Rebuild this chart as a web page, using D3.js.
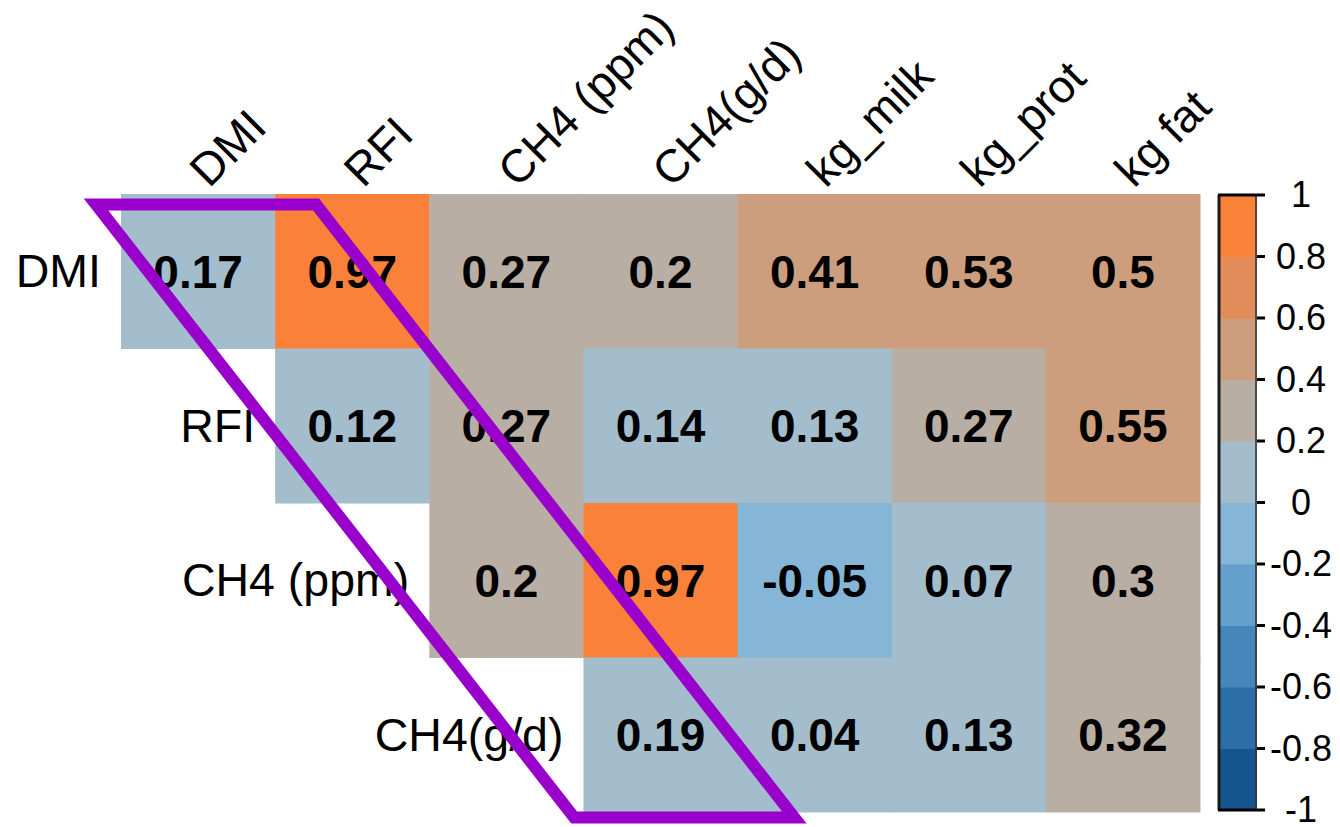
<!DOCTYPE html>
<html>
<head>
<meta charset="utf-8">
<script src="https://cdn.jsdelivr.net/npm/d3@7"></script>
<style>
html,body{margin:0;padding:0;background:#fff;}
svg{display:block;font-family:"Liberation Sans",Arial,sans-serif;}
</style>
</head>
<body>
<svg id="chart" width="1340" height="827"></svg>
<script>
// ---- data ----
const columns = ["DMI", "RFI", "CH4 (ppm)", "CH4(g/d)", "kg_milk", "kg_prot", "kg fat"];
const rows = ["DMI", "RFI", "CH4 (ppm)", "CH4(g/d)"];
const rowDMI = [0.17, 0.97, 0.27, 0.2, 0.41, 0.53, 0.5];
const rowRFI = [0.12, 0.27, 0.14, 0.13, 0.27, 0.55];
const rowCH4ppm = [0.2, 0.97, -0.05, 0.07, 0.3];
const rowCH4gd = [0.19, 0.04, 0.13, 0.32];
const rowValues = [rowDMI, rowRFI, rowCH4ppm, rowCH4gd];
const legendTicks = [1, 0.8, 0.6, 0.4, 0.2, 0, -0.2, -0.4, -0.6, -0.8, -1];
const binColors = ["#14548f", "#2b6ea8", "#4686bb", "#65a0cc", "#85b6d8",
                   "#a3bdcc", "#b8aea3", "#cd9e7e", "#e28c5a", "#f98139"];

// ---- build cells: row r starts at column r ----
const cells = [];
rowValues.forEach((vals, r) => {
  vals.forEach((v, i) => cells.push({row: rows[r], col: columns[r + i], value: v}));
});

const svg = d3.select("#chart");
const x = d3.scaleBand().domain(columns).range([121, 1200]);
const y = d3.scaleBand().domain(rows).range([194, 812]);
const color = d3.scaleThreshold()
  .domain(d3.range(-0.8, 0.81, 0.2).map(d => +d.toFixed(1)))
  .range(binColors);

// cells
svg.append("g").selectAll("rect").data(cells).join("rect")
  .attr("x", d => x(d.col))
  .attr("y", d => y(d.row))
  .attr("width", x.bandwidth() + 0.5)
  .attr("height", y.bandwidth() + 0.5)
  .attr("fill", d => color(d.value));

// cell values
svg.append("g").selectAll("text").data(cells).join("text")
  .attr("x", d => x(d.col) + x.bandwidth() / 2)
  .attr("y", d => y(d.row) + y.bandwidth() / 2 + 16.5)
  .attr("text-anchor", "middle")
  .attr("font-size", 46)
  .attr("font-weight", "bold")
  .attr("fill", "#000")
  .text(d => String(d.value));

// row labels
svg.append("g").selectAll("text").data(rows).join("text")
  .attr("x", (d, i) => x(columns[i]) - 20)
  .attr("y", d => y(d) + y.bandwidth() / 2 + 16)
  .attr("text-anchor", "end")
  .attr("font-size", 46.5)
  .attr("fill", "#000")
  .text(d => d);

// column labels (rotated)
svg.append("g").selectAll("text").data(columns).join("text")
  .attr("transform", d => `translate(${x(d) + x.bandwidth() / 2 + 11},189) rotate(-45)`)
  .attr("text-anchor", "start")
  .attr("font-size", 46)
  .attr("fill", "#000")
  .text(d => d);

// ---- colour legend ----
const ly = d3.scaleLinear().domain([-1, 1]).range([810, 195]);
const lx0 = 1218, lx1 = 1257;
const bins = d3.range(10).map(i => ({lo: -1 + i * 0.2, hi: -1 + (i + 1) * 0.2, c: binColors[i]}));
const lg = svg.append("g");
lg.selectAll("rect.bin").data(bins).join("rect")
  .attr("class", "bin")
  .attr("x", lx0)
  .attr("y", d => ly(d.hi))
  .attr("width", lx1 - lx0)
  .attr("height", d => ly(d.lo) - ly(d.hi) + 0.5)
  .attr("fill", d => d.c);
lg.append("line").attr("x1", lx0 + 1).attr("x2", lx0 + 1).attr("y1", ly(1)).attr("y2", ly(-1))
  .attr("stroke", "#1a1a1a").attr("stroke-width", 3);
lg.append("line").attr("x1", lx1 - 1).attr("x2", lx1 - 1).attr("y1", ly(1)).attr("y2", ly(-1))
  .attr("stroke", "#333").attr("stroke-width", 2).attr("stroke-opacity", 0.8);
lg.selectAll("line.tick").data(legendTicks).join("line")
  .attr("class", "tick")
  .attr("x1", d => (Math.abs(d) === 1 ? lx0 : lx1))
  .attr("x2", lx1 + 8)
  .attr("y1", d => ly(d)).attr("y2", d => ly(d))
  .attr("stroke", "#000").attr("stroke-width", 3);
lg.selectAll("text").data(legendTicks).join("text")
  .attr("x", 1301)
  .attr("y", d => ly(d) + 12)
  .attr("text-anchor", "middle")
  .attr("font-size", 36)
  .attr("fill", "#000")
  .text(d => (d < 0 ? "-" + String(-d) : String(d)));

// ---- purple annotation parallelogram (diagonal band) ----
const bandTop = y.range()[0] + 10.5;
const bandBottom = y.range()[1] + 5.5;
const slope = 0.78;
const leftTop = x.range()[0] - 25;
const rightTop = x(columns[1]) + 41;
const shape = [
  [leftTop, bandTop],
  [rightTop, bandTop],
  [rightTop + slope * (bandBottom - bandTop), bandBottom],
  [leftTop + slope * (bandBottom - bandTop), bandBottom]
];
svg.append("path")
  .attr("d", d3.line()(shape) + "Z")
  .attr("fill", "none")
  .attr("stroke", "#9900cc")
  .attr("stroke-width", 12)
  .attr("stroke-linejoin", "miter")
  .attr("stroke-miterlimit", 10);
</script>
</body>
</html>
